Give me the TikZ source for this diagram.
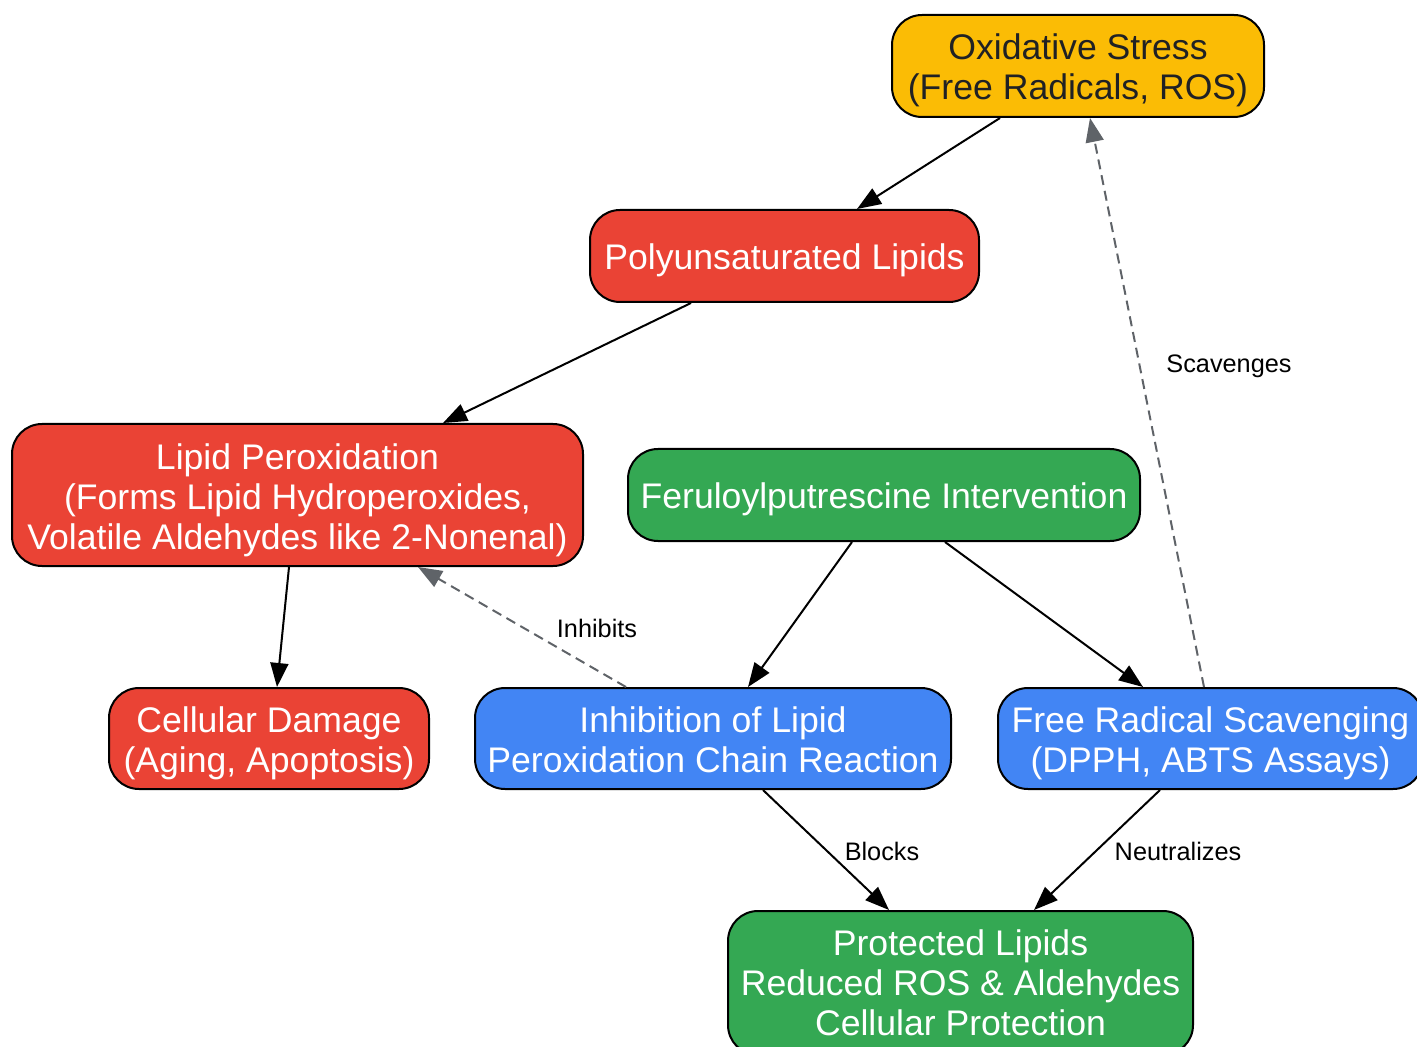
\documentclass[tikz,border=0pt]{standalone}
\usepackage{fontspec}
\setmainfont{Liberation Sans}
\usetikzlibrary{arrows.meta}
\definecolor{gyellow}{HTML}{FBBC05}
\definecolor{gred}{HTML}{EA4335}
\definecolor{ggreen}{HTML}{34A853}
\definecolor{gblue}{HTML}{4285F4}
\definecolor{gdark}{HTML}{202124}
\definecolor{ggray}{HTML}{5F6368}
\newcommand{\lnstr}[1]{\strut #1}
\tikzset{
  box/.style={draw=black, line width=1pt, rounded corners=15pt, inner sep=0pt},
  txt/.style={align=center, inner sep=0pt, yshift=-3pt, font=\fontsize{17.8}{20}\selectfont},
  yel/.style={box, fill=gyellow},
  red/.style={box, fill=gred},
  grn/.style={box, fill=ggreen},
  blu/.style={box, fill=gblue},
  arr/.style={line width=1pt, black, -{Triangle[length=12pt,width=9pt]}},
  darr/.style={line width=1pt, ggray, dash pattern=on 5pt off 3pt, -{Triangle[length=12pt,width=9pt]}},
  lbl/.style={font=\fontsize{12.65}{14}\selectfont, text=black, inner sep=0pt}
}
\begin{document}
\begin{tikzpicture}[x=0.5pt, y=-0.5pt]
\useasboundingbox (0,0) rectangle (1417,1047);
\clip (0,0) rectangle (1417,1047);
\node[yel, minimum width=186pt, minimum height=51pt,
  label={[txt, text=gdark]center:{\lnstr{Oxidative Stress}\\\lnstr{(Free Radicals, ROS)}}}] (ox) at (1078,66) {};
\node[red, minimum width=194.5pt, minimum height=46pt,
  label={[txt, text=white]center:{\lnstr{Polyunsaturated Lipids}}}] (poly) at (784.5,256) {};
\node[red, minimum width=285.5pt, minimum height=71pt,
  label={[txt, text=white]center:{\lnstr{Lipid Peroxidation}\\\lnstr{(Forms Lipid Hydroperoxides,}\\\lnstr{Volatile Aldehydes like 2-Nonenal)}}}] (lp) at (297.5,495) {};
\node[grn, minimum width=256pt, minimum height=46pt,
  label={[txt, text=white]center:{\lnstr{Feruloylputrescine Intervention}}}] (fer) at (884,495) {};
\node[red, minimum width=160pt, minimum height=50.5pt,
  label={[txt, text=white]center:{\lnstr{Cellular Damage}\\\lnstr{(Aging, Apoptosis)}}}] (cd) at (269,738.5) {};
\node[blu, minimum width=238pt, minimum height=50.5pt,
  label={[txt, text=white]center:{\lnstr{Inhibition of Lipid}\\\lnstr{Peroxidation Chain Reaction}}}] (inh) at (713,738.5) {};
\node[blu, minimum width=212.5pt, minimum height=50.5pt,
  label={[txt, text=white]center:{\lnstr{Free Radical Scavenging}\\\lnstr{(DPPH, ABTS Assays)}}}] (fr) at (1210.5,738.5) {};
\node[grn, minimum width=232.5pt, minimum height=72pt,
  label={[txt, text=white, yshift=1pt]center:{\lnstr{Protected Lipids}\\\lnstr{Reduced ROS \& Aldehydes}\\\lnstr{Cellular Protection}}}] (pl) at (960.5,983) {};

\draw[arr] ([xshift=-39pt]ox.south) -- ([xshift=36.25pt]poly.north);
\draw[arr] ([xshift=-46.75pt]poly.south) -- ([xshift=72.75pt]lp.north);
\draw[arr] ([xshift=-4.25pt]lp.south) -- ([xshift=4pt]cd.north);
\draw[arr] ([xshift=-16pt]fer.south) -- ([xshift=17.5pt]inh.north);
\draw[arr] ([xshift=30.5pt]fer.south) -- ([xshift=-33.75pt]fr.north);
\draw[darr] ([xshift=-43.5pt]inh.north) -- ([xshift=60.25pt]lp.south);
\draw[darr] ([xshift=-3.25pt]fr.north) -- ([xshift=6pt]ox.south);
\draw[arr] ([xshift=25pt]inh.south) -- ([xshift=-35.75pt]pl.north);
\draw[arr] ([xshift=-25.25pt]fr.south) -- ([xshift=36.75pt]pl.north);

\node[lbl] (l1) at (597,628) {Inhibits};
\node[lbl] (l2) at (1229,366) {Scavenges};
\node[lbl] (l3) at (882,851) {Blocks};
\node[lbl] (l4) at (1178,851) {Neutralizes};
\end{tikzpicture}
\end{document}
